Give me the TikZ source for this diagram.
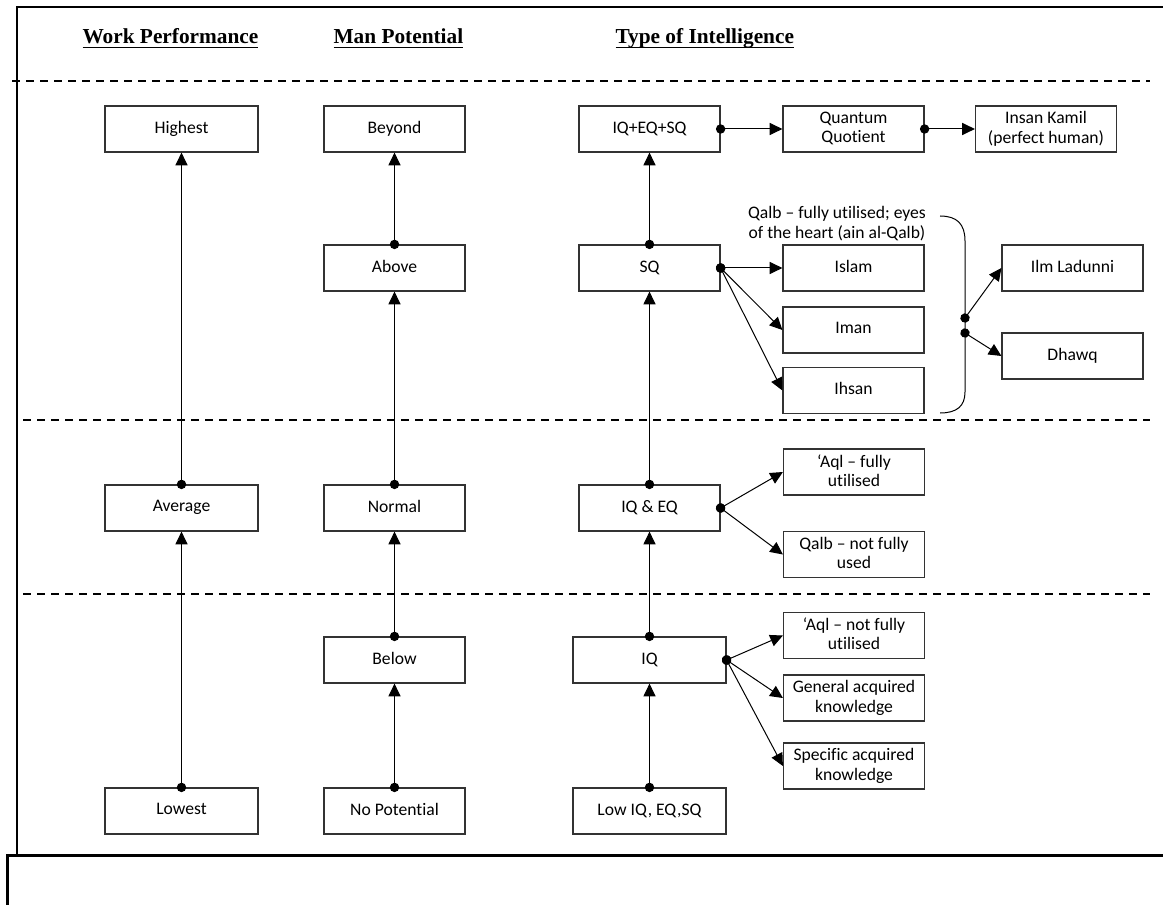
\documentclass[tikz,border=0pt]{standalone}
\usepackage{fontspec}
\setmainfont{Liberation Serif}
\newfontfamily\carlito[Ligatures={NoCommon}]{Carlito}
\usetikzlibrary{arrows.meta}

% underlined column heading
\newcommand{\hdline}[1]{\setbox0\hbox{#1}\rlap{\rule[-3.2pt]{\wd0}{1.1pt}}\box0}

\tikzset{every picture/.style={line width=0.75pt}}
\tikzset{
  box/.style={draw=black!80, line width=0.9pt, minimum width=105.75pt, minimum height=34.5pt, inner sep=1pt, text depth=0.25em, align=center, font=\carlito\fontsize{13.2}{14.5}\selectfont},
  widebox/.style={box, minimum width=114.75pt},
  link/.style={{Circle[length=7pt]}-{Triangle[length=9.5pt,width=9pt]}, shorten <=-3.5pt},
  level/.style={line width=1.1pt, dash pattern=on 6pt off 4.5pt},
  heading/.style={anchor=base west, inner sep=0pt, font=\bfseries\fontsize{16}{18}\selectfont},
}

\begin{document}
\begin{tikzpicture}[x=0.75pt,y=0.75pt,yscale=-1,xscale=1]
\useasboundingbox (0,0) rectangle (1163,905);

%Frame
\draw [line width=1.5pt] (17,855) -- (17,7) -- (1163,7) ;
\draw [line width=2.25pt] (1163,855) -- (7,855) -- (7,905) ;
%Level separators
\draw [level] (12,81) -- (1150,81) ;
\draw [level] (23,420) -- (1150,420) ;
\draw [level] (23,594) -- (1150,594) ;

% Headings
\node [heading] (hwork) at (82,44) {\hdline{Work Performance}};
\node [heading] (hman) at (333,44) {\hdline{Man Potential}};
\node [heading] (htype) at (615,44) {\hdline{Type of Intelligence}};

% Work Performance
\node [widebox] (highest) at (181.5,129) {Highest};
\node [widebox] (average) at (181.5,508) {Average};
\node [widebox] (lowest) at (181.5,811) {Lowest};

% Man Potential
\node [box] (beyond) at (394.5,129) {Beyond};
\node [box] (above) at (394.5,268) {Above};
\node [box] (normal) at (394.5,508) {Normal};
\node [box] (below) at (394.5,660) {Below};
\node [box] (nopot) at (394.5,811) {No Potential};

% Type of Intelligence
\node [box] (iqeqsq) at (649.5,129) {IQ+EQ+SQ};
\node [box] (sq) at (649.5,268) {SQ};
\node [box] (iqeq) at (649.5,508) {IQ \& EQ};
\node [widebox] (iq) at (649.5,660) {IQ};
\node [widebox] (lowiq) at (649.5,811) {Low IQ, EQ,SQ};

% Branches
\node [box] (quantum) at (853.5,129) {Quantum\\Quotient};
\node [box] (insan) at (1046,129) {Insan Kamil\\(perfect human)};
\node [box] (islam) at (853.5,268) {Islam};
\node [box] (iman) at (853.5,330) {Iman};
\node [box] (ihsan) at (853.5,390.5) {Ihsan};
\node [box] (ilm) at (1072.5,268) {Ilm Ladunni};
\node [box] (dhawq) at (1072.5,356) {Dhawq};
\node [box] (aqlfull) at (854,472) {‘Aql – fully\\utilised};
\node [box] (qalbnot) at (854,554.5) {Qalb – not fully\\used};
\node [box] (aqlnot) at (854,635.5) {‘Aql – not fully\\utilised};
\node [box] (general) at (854,698) {General acquired\\knowledge};
\node [box] (specific) at (854,766) {Specific acquired\\knowledge};

% Text Node
\node [align=center, inner sep=0pt, font=\carlito\fontsize{13.2}{15}\selectfont] (qalbtxt) at (837,224) {Qalb – fully utilised; eyes\\of the heart (ain al-Qalb)};

%Curve Lines
\draw (940,216) .. controls (957,216) and (965,224) .. (965,241) -- (965,392) .. controls (965,406) and (957,413) .. (940,413) ;
\coordinate (qalbup) at (965,318);
\coordinate (qalbdown) at (965,333);

%Straight Lines
\draw [link] (lowest.north) -- (average.south) ;
\draw [link] (average.north) -- (highest.south) ;
\draw [link] (nopot.north) -- (below.south) ;
\draw [link] (below.north) -- (normal.south) ;
\draw [link] (normal.north) -- (above.south) ;
\draw [link] (above.north) -- (beyond.south) ;
\draw [link] (lowiq.north) -- (iq.south) ;
\draw [link] (iq.north) -- (iqeq.south) ;
\draw [link] (iqeq.north) -- (sq.south) ;
\draw [link] (sq.north) -- (iqeqsq.south) ;
\draw [link] (iqeqsq.east) -- (quantum.west) ;
\draw [link] (quantum.east) -- (insan.west) ;
\draw [link] (sq.east) -- (islam.west) ;
\draw [link] (sq.east) -- (iman.west) ;
\draw [link] (sq.east) -- (ihsan.west) ;
\draw [link] (qalbup) -- (ilm.west) ;
\draw [link] (qalbdown) -- (dhawq.west) ;
\draw [link] (iqeq.east) -- (aqlfull.west) ;
\draw [link] (iqeq.east) -- (qalbnot.west) ;
\draw [link] (iq.east) -- (aqlnot.west) ;
\draw [link] (iq.east) -- (general.west) ;
\draw [link] (iq.east) -- (specific.west) ;

\end{tikzpicture}
\end{document}
